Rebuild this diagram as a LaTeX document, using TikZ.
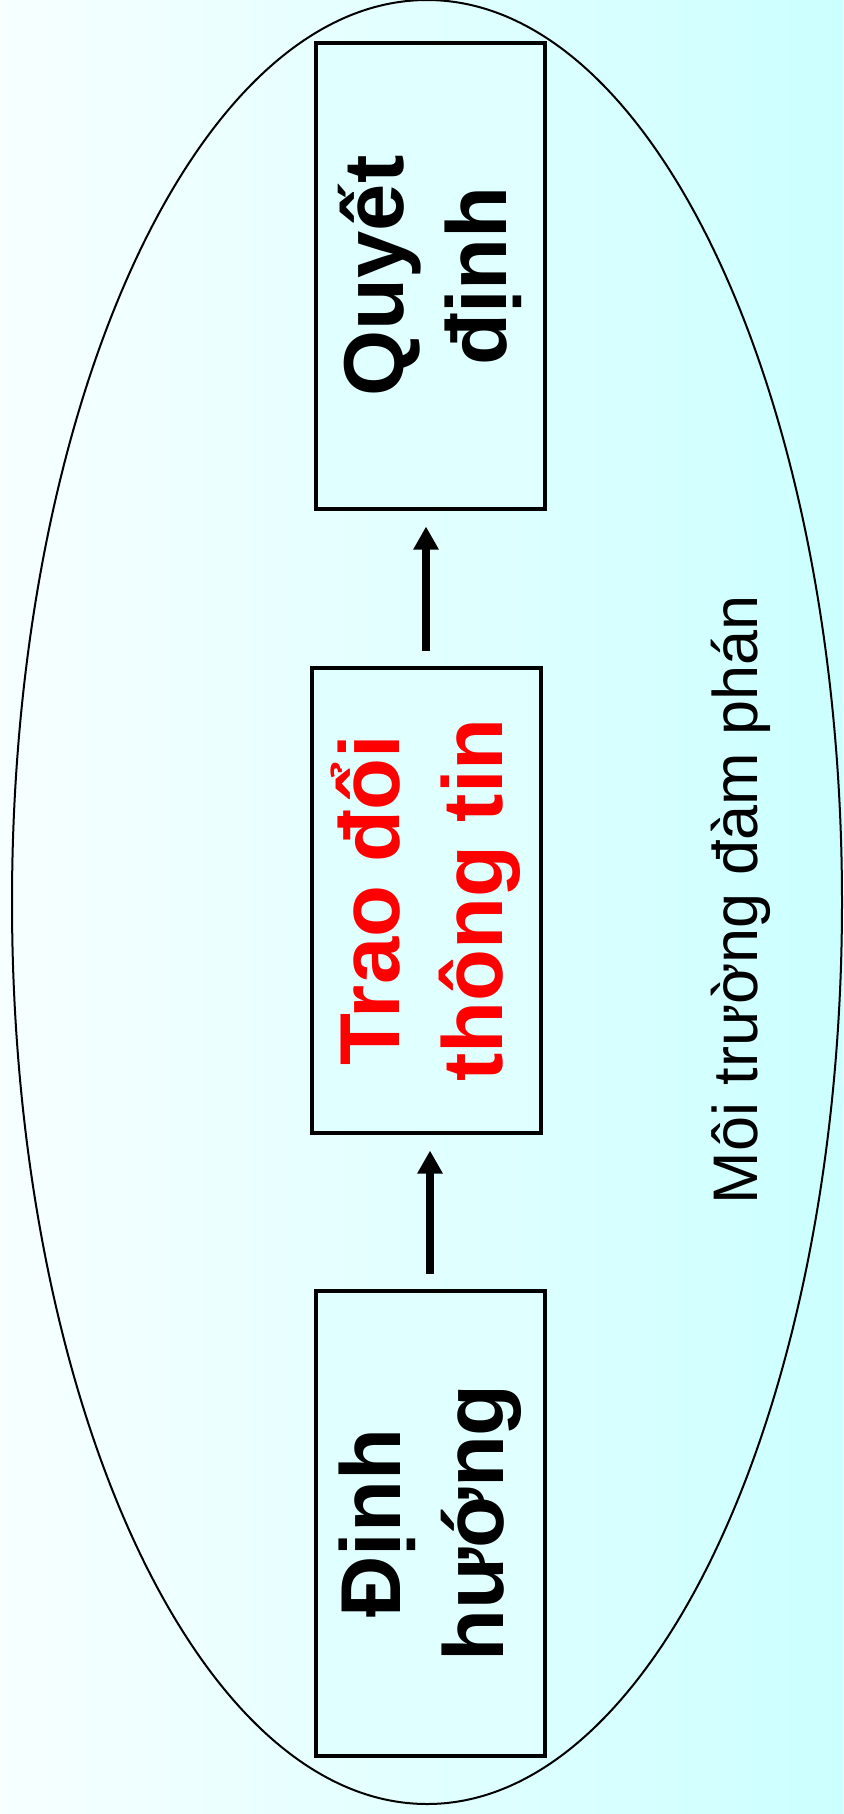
\documentclass[tikz,border=0pt]{standalone}
\usepackage{fontspec}
\setmainfont{Liberation Sans}
\usepackage{tikz}
\usetikzlibrary{calc,arrows.meta}
\definecolor{paleleft}{HTML}{F7FFFF}
\definecolor{paleright}{HTML}{CCFFFF}
\definecolor{boxfill}{HTML}{E0FFFF}
\tikzset{
	stage/.style = {draw, line width=4pt, fill=boxfill, rotate=90, align=center,
		minimum width=465pt, minimum height=229pt, inner sep=0pt,
		font=\bfseries\fontsize{85}{103}\selectfont},
	flow/.style = {line width=8pt, -{Triangle[length=23pt,width=24pt]},
		shorten <=15pt, shorten >=16pt}
}

\begin{document}
\begin{tikzpicture}[x=1pt,y=-1pt]
	\shade[left color=paleleft,right color=paleright] (0,0) rectangle (843,1814);
	\useasboundingbox (0,0) rectangle (843,1814);
	\draw[line width=2pt] (427,902) ellipse[x radius=415pt, y radius=902pt];
	\node[stage] (Q) at (430,276) {Quyết\\định};
	\node[stage] (T) at (426,900) {\color{red}Trao đổi\\\color{red}thông tin};
	\node[stage] (D) at (430,1523) {Định\\hướng};
	\draw[flow] (D.east) -- (D.east |- T.west);
	\draw[flow] (T.east) -- (T.east |- Q.west);
	\node[rotate=90, anchor=base, font=\fontsize{63}{75}\selectfont] (env) at (757,900) {Môi trường đàm phán};
\end{tikzpicture}
\end{document}
